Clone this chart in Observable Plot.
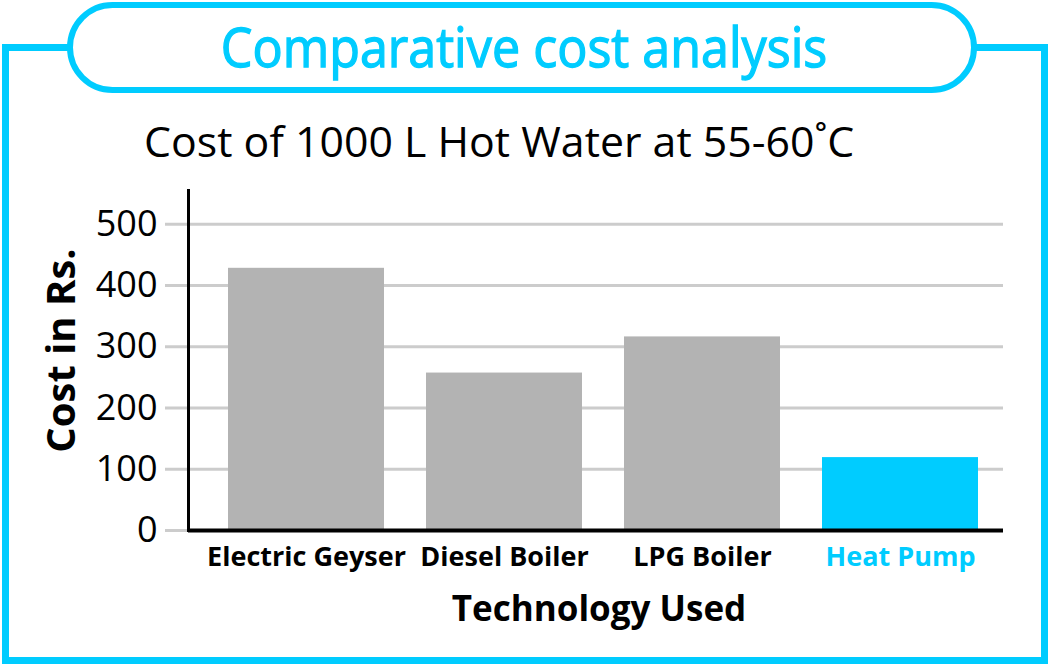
<!DOCTYPE html>
<html>
<head>
<meta charset="utf-8">
<script src="https://cdn.jsdelivr.net/npm/d3@7"></script>
<script src="https://cdn.jsdelivr.net/npm/@observablehq/plot@0.6"></script>
<style>
  body { margin: 0; background: #fff; }
  #wrap { position: relative; width: 1048px; height: 664px; background: #fff; overflow: hidden; font-family: "Open Sans", sans-serif; }
  .frame { position: absolute; box-sizing: border-box; left: 2px; top: 44px; width: 1046px; height: 620px; border: 7px solid #00CCFF; }
  .pill { position: absolute; box-sizing: border-box; left: 67px; top: 2px; width: 910px; height: 91px; border: 6px solid #00CCFF; border-radius: 46px; background: #fff; }
  #title { position: absolute; left: 0; width: 1048px; top: 16px; text-align: center; color: #00CCFF; font-size: 54px; line-height: 60px; white-space: nowrap; -webkit-text-stroke: 1.3px #00CCFF; }
  #title span { display: inline-block; transform: scaleX(0.93); }
  #subtitle { position: absolute; left: 0; width: 998px; top: 115px; text-align: center; color: #000; font-size: 42px; line-height: 52px; white-space: nowrap; }
  #subtitle span { display: inline-block; transform: scaleX(1.02); }
  #chart { position: absolute; left: 0; top: 170px; }
</style>
</head>
<body>
<div id="wrap">
  <div class="frame"></div>
  <div class="pill"></div>
  <div id="title"><span>Comparative cost analysis</span></div>
  <div id="subtitle"><span>Cost of 1000 L Hot Water at 55-60˚C</span></div>
  <div id="chart"></div>
</div>
<script>
const categories = ["Electric Geyser", "Diesel Boiler", "LPG Boiler", "Heat Pump"];
const costs = [428, 257, 316, 119];
const yTicks = [0, 100, 200, 300, 400, 500];
const highlight = "Heat Pump";
const xLabel = "Technology Used";
const yLabel = "Cost in Rs.";

const CYAN = "#00CCFF";
const GREY = "#B3B3B3";

const data = categories.map((c, i) => ({tech: c, cost: costs[i]}));

const chart = Plot.plot({
  width: 1048,
  height: 470,
  marginTop: 20,
  marginBottom: 110,
  marginLeft: 188,
  marginRight: 45,
  style: {fontFamily: "Open Sans, sans-serif", color: "#000", background: "transparent", overflow: "visible"},
  x: {domain: categories, paddingInner: 0.21, paddingOuter: 0.1, insetLeft: 20, insetRight: 4, axis: null},
  y: {domain: [0, 555], axis: null},
  marks: [
    Plot.ruleY(yTicks, {stroke: "#CCCCCC", strokeWidth: 3, insetLeft: -23}),
    Plot.barY(data, {x: "tech", y: "cost", fill: d => d.tech === highlight ? CYAN : GREY}),
    Plot.axisY({ticks: yTicks, tickSize: 0, tickPadding: 31, fontSize: 36, label: null}),
    Plot.ruleY([0], {stroke: "#000", strokeWidth: 4}),
    Plot.frame({anchor: "left", stroke: "#000", strokeWidth: 3}),
    Plot.text(categories, {
      x: d => d, frameAnchor: "bottom", lineAnchor: "top", dy: 16,
      fontSize: 27, fontWeight: "bold",
      fill: d => d === highlight ? CYAN : "#000"
    }),
    Plot.text([xLabel], {frameAnchor: "bottom", lineAnchor: "top", dx: 3, dy: 66, fontSize: 35, fontWeight: "bold", fill: "#000"}),
    Plot.text([yLabel], {frameAnchor: "left", textAnchor: "middle", rotate: -90, dx: -126, dy: -10, fontSize: 40, fontWeight: "bold", fill: "#000"})
  ]
});
document.getElementById("chart").appendChild(chart);
</script>
</body>
</html>
